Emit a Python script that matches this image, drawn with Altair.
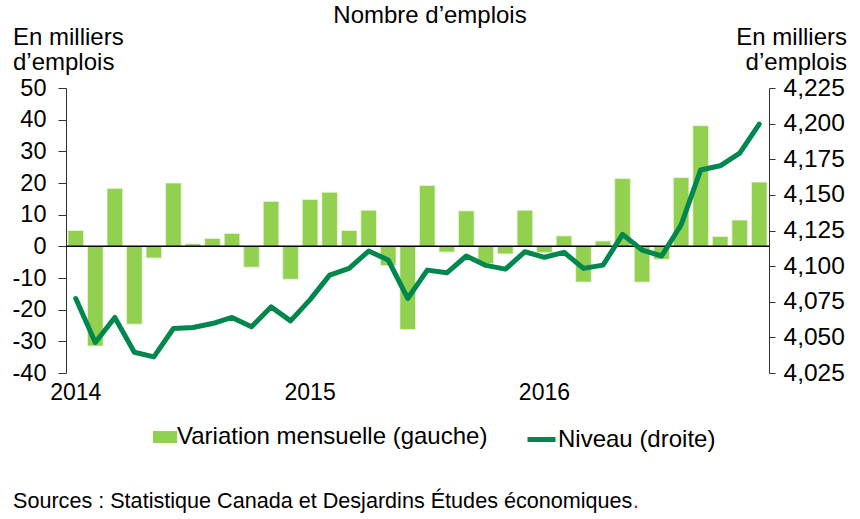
import altair as alt
import pandas as pd

# ---- data ----
years = ["2014", "2015", "2016"]
month_nums = ["01", "02", "03", "04", "05", "06", "07", "08", "09", "10", "11", "12"]
months = [f"{y}-{m}" for y in years for m in month_nums]

variation = [5.0, -31.5, 18.3, -24.6, -3.7, 20.0, 0.8, 2.5, 4.1, -6.6, 14.2, -10.4,
             14.8, 17.1, 5.0, 11.4, -6.1, -26.3, 19.2, -1.8, 11.2, -5.5, -2.4, 11.4,
             -2.0, 3.3, -11.3, 1.7, 21.4, -11.3, -4.1, 21.7, 38.1, 3.1, 8.3, 20.3]

level = [4077.3, 4046.4, 4064.0, 4039.6, 4036.3, 4056.2, 4056.9, 4059.7, 4064.0, 4057.4, 4071.4, 4061.6,
         4076.5, 4093.7, 4098.4, 4110.6, 4104.3, 4077.3, 4097.2, 4095.3, 4107.1, 4100.5, 4097.9, 4110.1,
         4106.2, 4109.7, 4098.4, 4100.7, 4122.3, 4111.3, 4107.1, 4128.9, 4167.5, 4170.4, 4179.3, 4199.7]

left_ticks = [-40, -30, -20, -10, 0, 10, 20, 30, 40, 50]
right_ticks = [4025, 4050, 4075, 4100, 4125, 4150, 4175, 4200, 4225]

title_text = "Nombre d’emplois"
left_title = ["En milliers", "d’emplois"]
right_title = ["En milliers", "d’emplois"]
bar_label = "Variation mensuelle (gauche)"
line_label = "Niveau (droite)"
source_text = "Sources : Statistique Canada et Desjardins Études économiques"

df = pd.DataFrame({"month": months, "variation": variation, "level": level})
df["s_bar"] = bar_label
df["s_line"] = line_label

FONT = "Liberation Sans"
BAR_COLOR = "#92D050"
LINE_COLOR = "#00874E"

x_enc = alt.X(
    "month:O",
    sort=months,
    scale=alt.Scale(paddingInner=0.2, paddingOuter=0.1),
    axis=alt.Axis(
        title=None, domain=False, ticks=False, labelAngle=0,
        labelExpr="substring(datum.value, 5, 7) == '01' ? substring(datum.value, 0, 4) : ''",
        labelFont=FONT, labelFontSize=23, labelColor="black", labelPadding=8,
        labelOverlap=False,
    ),
)

left_scale = alt.Scale(domain=[-40, 50], nice=False, zero=False)
left_axis = alt.Axis(
    orient="left", title=None, values=left_ticks, grid=False,
    labelExpr="toString(datum.value)", labelOverlap=False,
    domainColor="#333333", tickColor="#333333", tickSize=8,
    labelFont=FONT, labelFontSize=23.5, labelColor="black", labelPadding=12,
)

bars = alt.Chart(df).mark_bar(stroke="#EAF6DC", strokeWidth=0.8).encode(
    x=x_enc,
    y=alt.Y("variation:Q", scale=left_scale, axis=left_axis),
    fill=alt.Fill(
        "s_bar:N",
        scale=alt.Scale(range=[BAR_COLOR]),
        legend=alt.Legend(
            title=None, orient="none", legendX=87, legendY=337, padding=0,
            symbolType="M-1,-0.5H1V0.5H-1Z", symbolSize=576, symbolStrokeWidth=0,
            labelFont=FONT, labelFontSize=24, labelColor="black", labelLimit=0,
            labelOffset=0,
        ),
    ),
)

zero_df = pd.DataFrame({"variation": [0]})
zero = alt.Chart(zero_df).mark_rule(color="black", strokeWidth=1.5).encode(
    y=alt.Y("variation:Q", scale=left_scale, axis=left_axis)
)

line = alt.Chart(df).mark_line(strokeWidth=5, strokeCap="round", strokeJoin="round").encode(
    x=x_enc,
    y=alt.Y(
        "level:Q",
        scale=alt.Scale(domain=[4025, 4225], nice=False, zero=False),
        axis=alt.Axis(
            orient="right", title=None, values=right_ticks, grid=False,
            labelExpr="format(datum.value, ',.0f')", labelOverlap=False,
            domainColor="#333333", tickColor="#333333", tickSize=6,
            labelFont=FONT, labelFontSize=24.5, labelColor="black", labelPadding=8,
        ),
    ),
    stroke=alt.Stroke(
        "s_line:N",
        scale=alt.Scale(range=[LINE_COLOR]),
        legend=alt.Legend(
            title=None, orient="none", legendX=459, legendY=335, padding=0,
            symbolType="stroke", symbolSize=784, symbolStrokeWidth=5,
            labelFont=FONT, labelFontSize=24, labelColor="black", labelLimit=0,
            labelOffset=0,
        ),
    ),
)

one = pd.DataFrame({"k": [0]})

title_mark = alt.Chart(one).mark_text(
    font=FONT, fontSize=24, color="black", align="center", baseline="alphabetic"
).encode(x=alt.value(364), y=alt.value(-65), text=alt.value(title_text))

left_title_mark = alt.Chart(one).mark_text(
    font=FONT, fontSize=24, color="black", align="left", baseline="alphabetic", lineHeight=25
).encode(x=alt.value(-53), y=alt.value(-43), text=alt.value(left_title))

right_title_mark = alt.Chart(one).mark_text(
    font=FONT, fontSize=24, color="black", align="right", baseline="alphabetic", lineHeight=25
).encode(x=alt.value(781), y=alt.value(-43), text=alt.value(right_title))

source_mark = alt.Chart(one).mark_text(
    font=FONT, fontSize=21.6, color="black", align="left", baseline="alphabetic"
).encode(x=alt.value(-53), y=alt.value(420), text=alt.value(source_text))

period_mark = alt.Chart(one).mark_text(
    font=FONT, fontSize=21.6, color="#E00000", align="left", baseline="alphabetic"
).encode(x=alt.value(-53 + 620), y=alt.value(420), text=alt.value("."))

main = alt.layer(alt.layer(bars, zero), line).resolve_scale(
    y="independent", fill="independent", stroke="independent"
)

chart = alt.layer(
    main, title_mark, left_title_mark, right_title_mark, source_mark, period_mark
).properties(
    width=703,
    height=285,
    padding={"left": 66, "top": 88, "right": 91, "bottom": 146},
    autosize=alt.AutoSizeParams(type="none"),
    background="white",
).configure_view(stroke=None)

chart.save("out.html", embed_options={"renderer": "svg", "actions": False})
